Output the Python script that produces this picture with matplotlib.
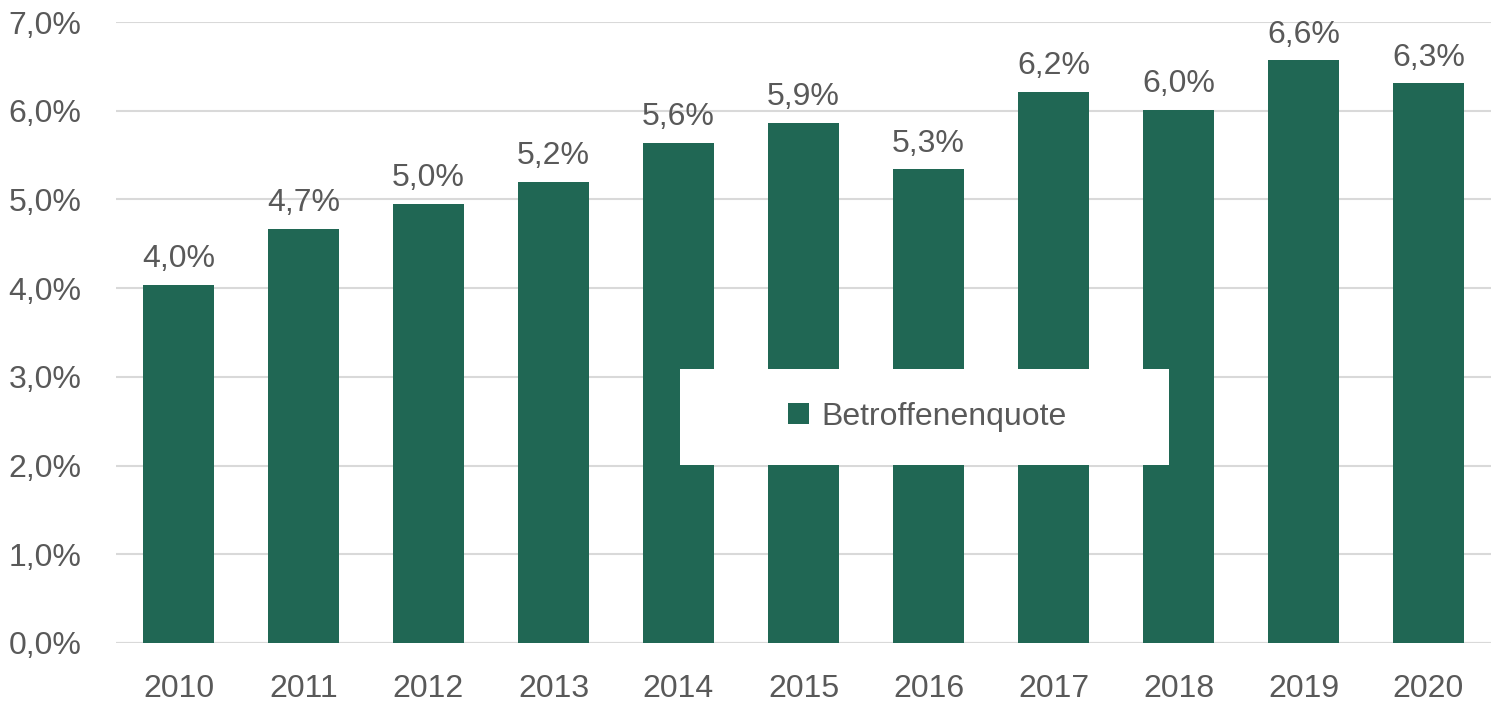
import numpy as np
import matplotlib.pyplot as plt
from matplotlib.patches import Rectangle

years = ['2010', '2011', '2012', '2013', '2014', '2015', '2016', '2017', '2018', '2019', '2020']
quote = [4.04, 4.67, 4.95, 5.20, 5.64, 5.86, 5.34, 6.21, 6.01, 6.57, 6.31]
labels = ['4,0%', '4,7%', '5,0%', '5,2%', '5,6%', '5,9%', '5,3%', '6,2%', '6,0%', '6,6%', '6,3%']
yticks = [0, 1, 2, 3, 4, 5, 6, 7]

plt.rcParams['font.family'] = ['Liberation Sans', 'DejaVu Sans']

green = '#206754'
grey = '#595959'
fs = 23

fig = plt.figure(figsize=(14.93, 7.07), dpi=100)
ax = fig.add_axes([116/1493, 1-643/707, 1375/1493, 621/707])
x = np.arange(len(years))
ax.bar(x, quote, width=0.57, color=green, label='Betroffenenquote', zorder=2)
for xi, v, l in zip(x, quote, labels):
    ax.text(xi, v + 0.12, l, ha='center', va='bottom', fontsize=fs, color=grey)

ax.set_xlim(-0.5, 10.5)
ax.set_ylim(0, 7)
ax.set_yticks(yticks)
ax.set_yticklabels(['%d,0%%' % t for t in yticks])
ax.set_xticks(x)
ax.set_xticklabels(years)
ax.tick_params(axis='both', length=0, labelsize=fs, labelcolor=grey)
ax.tick_params(axis='y', pad=25)
ax.tick_params(axis='x', pad=22)
ax.grid(axis='y', color='#d9d9d9', linewidth=1.5, zorder=0)
for s in ax.spines.values():
    s.set_visible(False)
ax.axhline(0, color='#d9d9d9', linewidth=1.5, zorder=1)

# white legend box
ax.add_patch(Rectangle((0.410, 0.287), 0.356, 0.155, transform=ax.transAxes,
                       facecolor='white', edgecolor='none', zorder=4))
leg = ax.legend(loc='center', bbox_to_anchor=(0.590, 0.364), frameon=False,
                fontsize=fs, labelcolor=grey, handlelength=0.65, handleheight=0.65,
                handletextpad=0.4)
leg.set_zorder(5)

fig.savefig('out.png', dpi=100)
